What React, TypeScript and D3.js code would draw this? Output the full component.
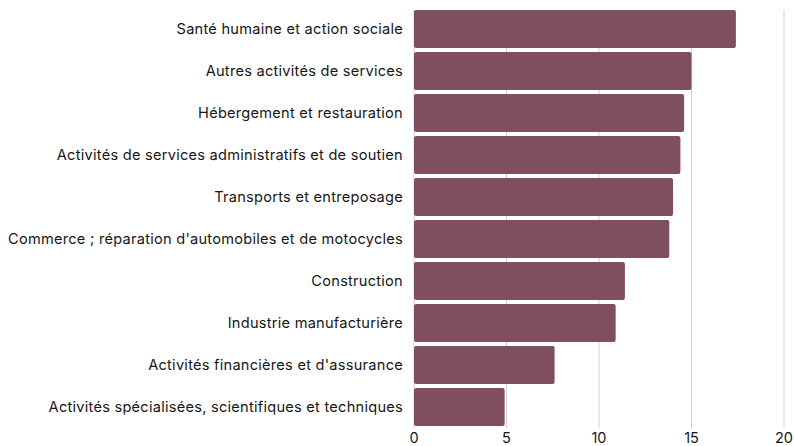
import React, { useEffect, useRef } from 'react';
import * as d3 from 'd3';

const categories = [
  'Santé humaine et action sociale',
  'Autres activités de services',
  'Hébergement et restauration',
  'Activités de services administratifs et de soutien',
  'Transports et entreposage',
  "Commerce ; réparation d'automobiles et de motocycles",
  'Construction',
  'Industrie manufacturière',
  "Activités financières et d'assurance",
  'Activités spécialisées, scientifiques et techniques',
];

const values = [17.4, 15.0, 14.6, 14.4, 14.0, 13.8, 11.4, 10.9, 7.6, 4.9];

const xTicks = [0, 5, 10, 15, 20];

const App = () => {
  const svgRef = useRef<SVGSVGElement>(null);

  useEffect(() => {
    const svg = d3.select(svgRef.current);
    svg.selectAll('*').remove();

    const width = 794,
      height = 446;

    const x = d3.scaleLinear().domain([0, 20]).range([414, 784]);
    const y = d3
      .scaleBand()
      .domain(categories)
      .range([8, 428])
      .paddingInner(0.1)
      .paddingOuter(0.05);

    svg.attr('width', width).attr('height', height);

    const font = "Inter, 'Open Sans', sans-serif";

    // grid
    svg
      .append('g')
      .selectAll('line')
      .data(xTicks)
      .enter()
      .append('line')
      .attr('x1', (d) => x(d))
      .attr('x2', (d) => x(d))
      .attr('y1', 10)
      .attr('y2', 428)
      .attr('stroke', '#d0d0d0')
      .attr('stroke-width', 1);

    // bars
    svg
      .append('g')
      .selectAll('rect')
      .data(values)
      .enter()
      .append('rect')
      .attr('x', x(0))
      .attr('y', (d, i) => y(categories[i]))
      .attr('width', (d) => x(d) - x(0))
      .attr('height', y.bandwidth())
      .attr('rx', 2)
      .attr('fill', '#7f4f5d');

    // category labels
    svg
      .append('g')
      .selectAll('text')
      .data(categories)
      .enter()
      .append('text')
      .attr('x', 403)
      .attr('y', (d) => y(d) + y.bandwidth() / 2)
      .attr('dy', '0.35em')
      .attr('text-anchor', 'end')
      .attr('font-family', font)
      .attr('font-size', 14.6)
      .attr('letter-spacing', 0.25)
      .attr('fill', '#161616')
      .text((d) => d);

    // x tick labels
    svg
      .append('g')
      .selectAll('text')
      .data(xTicks)
      .enter()
      .append('text')
      .attr('x', (d) => x(d))
      .attr('y', 438)
      .attr('dy', '0.35em')
      .attr('text-anchor', 'middle')
      .attr('font-family', font)
      .attr('font-size', 14.5)
      .attr('fill', '#161616')
      .text((d) => d);
  }, []);

  return (
    <div style={{ position: 'absolute', left: 0, top: 0 }}>
      <svg ref={svgRef} style={{ display: 'block' }} />
    </div>
  );
};

export default App;
